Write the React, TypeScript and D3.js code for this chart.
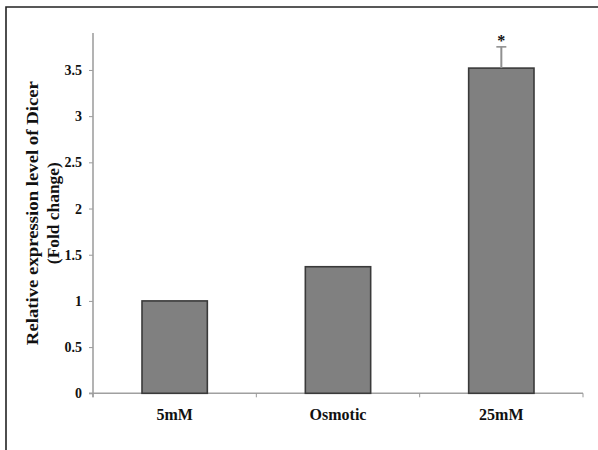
import React, { useEffect, useRef } from "react";
import * as d3 from "d3";

const categories = ["5mM", "Osmotic", "25mM"];
const values = [1.0, 1.37, 3.52];
const errors = [0, 0, 0.23];
const significance = ["", "", "*"];
const yTicks = [0, 0.5, 1, 1.5, 2, 2.5, 3, 3.5];
const yTitleLines = ["Relative expression level of Dicer", "(Fold change)"];

const W = 598;
const H = 450;
const FONT = "'Liberation Serif', 'Times New Roman', serif";

export default function App() {
  const ref = useRef<SVGSVGElement | null>(null);

  useEffect(() => {
    const svg = d3.select(ref.current);
    svg.selectAll("*").remove();

    const left = 93, right = 583, top = 33, bottom = 393.3;

    const x = d3.scaleBand<string>().domain(categories).range([left, right]).paddingInner(0.6).paddingOuter(0.3);
    const y = d3.scaleLinear().domain([0, 3.9]).range([bottom, top]);

    svg.append("rect").attr("x", 0).attr("y", 0).attr("width", W).attr("height", H).attr("fill", "#fff");

    // frame
    svg.append("path")
      .attr("d", `M6,${H + 5} L6,7 L${W + 5},7`)
      .attr("fill", "none").attr("stroke", "#222").attr("stroke-width", 1.6);

    // y axis
    const yAxis = d3.axisLeft(y).tickValues(yTicks).tickSize(4).tickPadding(7).tickFormat((d) => String(d));
    const gy = svg.append("g").attr("transform", `translate(${left},0)`).call(yAxis);
    gy.select(".domain").remove();
    gy.selectAll(".tick line").attr("stroke", "#999").attr("stroke-width", 1);
    gy.selectAll(".tick text")
      .attr("font-family", FONT).attr("font-weight", "bold").attr("font-size", 14).attr("fill", "#111");
    svg.append("line").attr("x1", left).attr("x2", left).attr("y1", top).attr("y2", bottom + 4)
      .attr("stroke", "#a0a0a0").attr("stroke-width", 1.6);

    // x axis line and boundary ticks
    svg.append("line").attr("x1", left - 4).attr("x2", right).attr("y1", bottom).attr("y2", bottom)
      .attr("stroke", "#a0a0a0").attr("stroke-width", 1.6);
    const step = x.step();
    const bounds = d3.range(categories.length + 1).map((i) => left + i * step);
    svg.append("g").selectAll("line").data(bounds).join("line")
      .attr("x1", (d) => d).attr("x2", (d) => d).attr("y1", bottom).attr("y2", bottom + 4)
      .attr("stroke", "#999").attr("stroke-width", 1);

    // bars
    svg.append("g").selectAll("rect").data(categories).join("rect")
      .attr("x", (d) => x(d)!)
      .attr("y", (d, i) => y(values[i]))
      .attr("width", x.bandwidth())
      .attr("height", (d, i) => y(0) - y(values[i]))
      .attr("fill", "#808080").attr("stroke", "#3a3a3a").attr("stroke-width", 1.6);

    // error bars
    categories.forEach((c, i) => {
      if (!errors[i]) return;
      const cx = x(c)! + x.bandwidth() / 2;
      svg.append("line").attr("x1", cx).attr("x2", cx).attr("y1", y(values[i])).attr("y2", y(values[i] + errors[i]))
        .attr("stroke", "#909090").attr("stroke-width", 2);
      svg.append("line").attr("x1", cx - 5).attr("x2", cx + 5).attr("y1", y(values[i] + errors[i])).attr("y2", y(values[i] + errors[i]))
        .attr("stroke", "#909090").attr("stroke-width", 1.6);
      if (significance[i]) {
        svg.append("text").attr("x", cx).attr("y", y(values[i] + errors[i]) - 1)
          .attr("text-anchor", "middle").attr("font-family", FONT).attr("font-weight", "bold")
          .attr("font-size", 16).attr("fill", "#111").text(significance[i]);
      }
    });

    // x labels
    svg.append("g").selectAll("text").data(categories).join("text")
      .attr("x", (d) => x(d)! + x.bandwidth() / 2).attr("y", 420)
      .attr("text-anchor", "middle").attr("font-family", FONT).attr("font-weight", "bold")
      .attr("font-size", 16).attr("fill", "#111").text((d) => d);

    // y title
    const cy = (top + bottom) / 2;
    const lengths = [264, 102];
    const tg = svg.append("g").attr("transform", `translate(0,${cy}) rotate(-90)`);
    tg.selectAll("text").data(yTitleLines).join("text")
      .attr("x", 0).attr("y", (d, i) => 38 + i * 21)
      .attr("text-anchor", "middle").attr("font-family", FONT).attr("font-weight", "bold")
      .attr("font-size", 17).attr("fill", "#111")
      .attr("textLength", (d, i) => lengths[i]).attr("lengthAdjust", "spacingAndGlyphs")
      .text((d) => d);
  }, []);

  return (
    <svg ref={ref} width={W} height={H} style={{ position: "absolute", left: 0, top: 0 }} />
  );
}
